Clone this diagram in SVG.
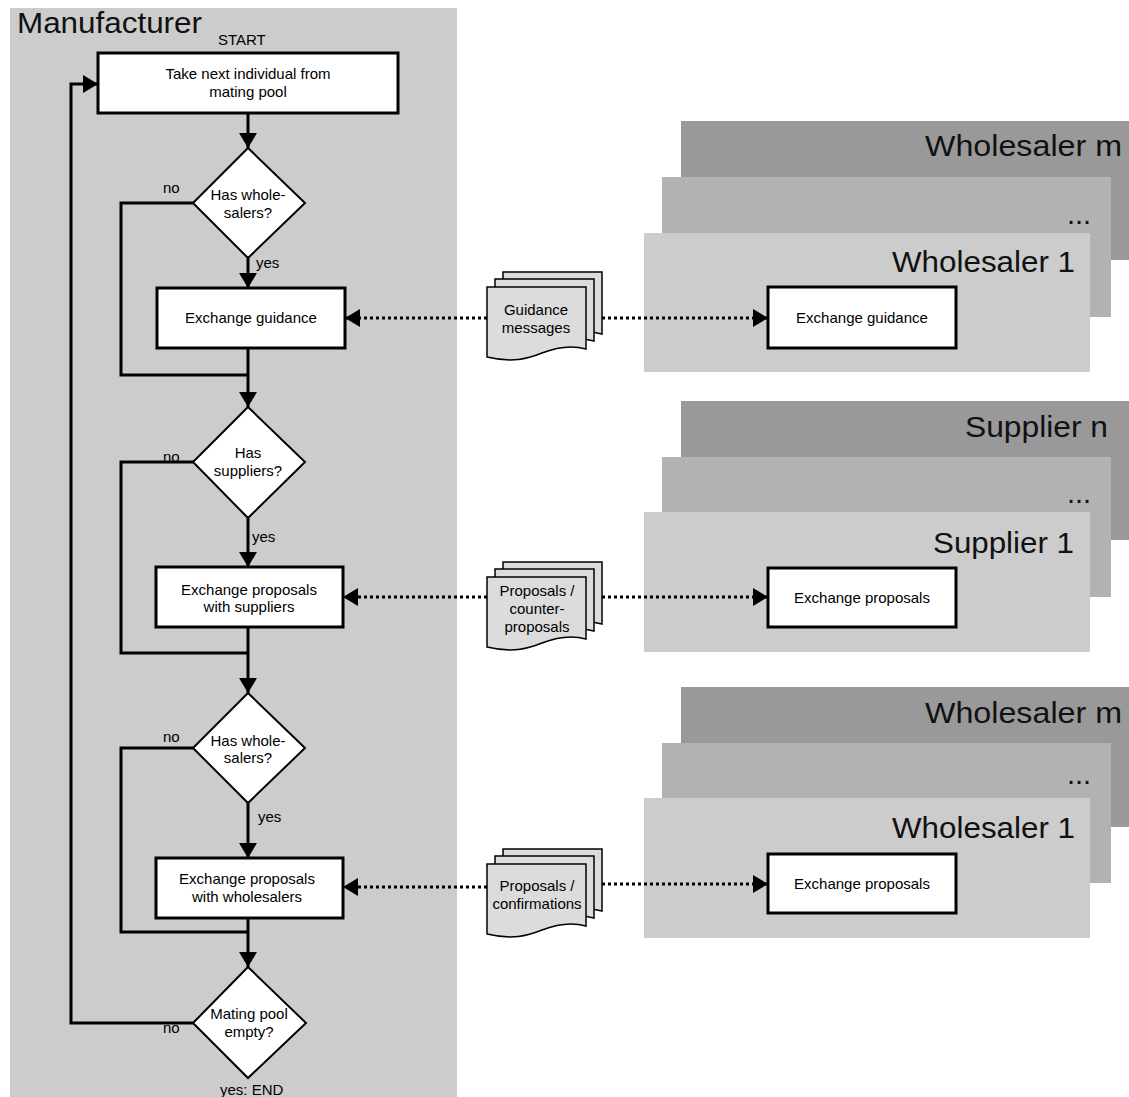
<svg xmlns="http://www.w3.org/2000/svg" width="1129" height="1097" viewBox="0 0 1129 1097">
  <style>
    .t { font-family: "Liberation Sans", Arial, sans-serif; font-size: 15px; fill: #000; }
    .c { text-anchor: middle; }
    .big { font-family: "Liberation Sans", Arial, sans-serif; font-size: 29px; fill: #111; }
    .box { fill: #fff; stroke: #000; stroke-width: 3; }
    .dia { fill: #fff; stroke: #000; stroke-width: 2; }
    .flow { fill: none; stroke: #000; stroke-width: 3; }
    .dot { fill: none; stroke: #000; stroke-width: 3; stroke-dasharray: 3 3; }
    .page { fill: #dcdcdc; stroke: #000; stroke-width: 1.5; }
    .back { fill: #999999; }
    .mid { fill: #b2b2b2; }
    .front { fill: #cccccc; }
  </style>
  <defs>
    <marker id="arr" markerUnits="userSpaceOnUse" markerWidth="16" markerHeight="18" refX="15" refY="9" orient="auto">
      <path d="M0,0 L15,9 L0,18 Z" fill="#000"/>
    </marker>
    <!-- document shape: three stacked sheets with a wavy bottom -->
    <path id="sheet" d="M0,0 H99 V62 C85,58 70,60 55,66 C40,72 25,76 0,70 Z"/>
    <g id="docs">
      <use href="#sheet" class="page" x="16" y="-15"/>
      <use href="#sheet" class="page" x="8" y="-8"/>
      <use href="#sheet" class="page"/>
    </g>
  </defs>

  <!-- manufacturer lane -->
  <g id="manufacturer">
    <rect x="10" y="8" width="447" height="1095" fill="#cccccc"/>
    <text class="big" x="17" y="33" font-size="26" textLength="185" lengthAdjust="spacingAndGlyphs">Manufacturer</text>
    <text class="t" x="218" y="45" font-size="14">START</text>
  </g>

  <!-- wholesaler stack (guidance) -->
  <g id="wholesalers-a">
    <rect class="back" x="681" y="121" width="448" height="139"/>
    <rect class="mid" x="662" y="177" width="449" height="140"/>
    <rect class="front" x="644" y="233" width="446" height="139"/>
    <text class="big" x="925" y="156" textLength="197" lengthAdjust="spacingAndGlyphs">Wholesaler m</text>
    <text class="big" x="1067" y="224">...</text>
    <text class="big" x="892" y="272" textLength="183" lengthAdjust="spacingAndGlyphs">Wholesaler 1</text>
  </g>
  <g id="w-guidance">
    <rect class="box" x="768" y="287" width="188" height="61"/>
    <text class="t c" x="862" y="323">Exchange guidance</text>
  </g>

  <!-- supplier stack -->
  <g id="suppliers">
    <rect class="back" x="681" y="401" width="448" height="139"/>
    <rect class="mid" x="662" y="457" width="449" height="140"/>
    <rect class="front" x="644" y="512" width="446" height="140"/>
    <text class="big" x="965" y="437" textLength="143" lengthAdjust="spacingAndGlyphs">Supplier n</text>
    <text class="big" x="1067" y="503">...</text>
    <text class="big" x="933" y="553" textLength="141" lengthAdjust="spacingAndGlyphs">Supplier 1</text>
  </g>
  <g id="s-proposals">
    <rect class="box" x="768" y="568" width="188" height="59"/>
    <text class="t c" x="862" y="603">Exchange proposals</text>
  </g>

  <!-- wholesaler stack (proposals) -->
  <g id="wholesalers-b">
    <rect class="back" x="681" y="687" width="448" height="140"/>
    <rect class="mid" x="662" y="743" width="449" height="140"/>
    <rect class="front" x="644" y="798" width="446" height="140"/>
    <text class="big" x="925" y="723" textLength="197" lengthAdjust="spacingAndGlyphs">Wholesaler m</text>
    <text class="big" x="1067" y="784">...</text>
    <text class="big" x="892" y="838" textLength="183" lengthAdjust="spacingAndGlyphs">Wholesaler 1</text>
  </g>
  <g id="w-proposals">
    <rect class="box" x="768" y="854" width="188" height="59"/>
    <text class="t c" x="862" y="889">Exchange proposals</text>
  </g>

  <!-- connectors -->
  <g id="connectors">
    <path class="flow" d="M248,113 V148" marker-end="url(#arr)"/>
    <path class="flow" d="M248,258 V288" marker-end="url(#arr)"/>
    <path class="flow" d="M248,348 V407" marker-end="url(#arr)"/>
    <path class="flow" d="M248,518 V567" marker-end="url(#arr)"/>
    <path class="flow" d="M248,627 V693" marker-end="url(#arr)"/>
    <path class="flow" d="M248,803 V858" marker-end="url(#arr)"/>
    <path class="flow" d="M248,918 V967" marker-end="url(#arr)"/>
    <path class="flow" d="M193,203 H121 V375 H248"/>
    <path class="flow" d="M193,462 H121 V653 H248"/>
    <path class="flow" d="M193,748 H121 V932 H248"/>
    <path class="flow" d="M193,1023 H71 V84 H98" marker-end="url(#arr)"/>
    <path class="dot" d="M487,318 H345" marker-end="url(#arr)"/>
    <path class="dot" d="M602,318 H768" marker-end="url(#arr)"/>
    <path class="dot" d="M487,597 H343" marker-end="url(#arr)"/>
    <path class="dot" d="M602,597 H768" marker-end="url(#arr)"/>
    <path class="dot" d="M487,887 H343" marker-end="url(#arr)"/>
    <path class="dot" d="M602,884 H768" marker-end="url(#arr)"/>
  </g>

  <!-- flowchart nodes -->
  <g id="take-next">
    <rect class="box" x="98" y="53" width="300" height="60"/>
    <text class="t c" x="248" y="79">Take next individual from</text>
    <text class="t c" x="248" y="97">mating pool</text>
  </g>
  <g id="has-wholesalers-1">
    <polygon class="dia" points="248,148 305,203 248,258 193,203"/>
    <text class="t c" x="248" y="200">Has whole-</text>
    <text class="t c" x="248" y="218">salers?</text>
    <text class="t" x="163" y="193">no</text>
    <text class="t" x="256" y="268">yes</text>
  </g>
  <g id="exchange-guidance">
    <rect class="box" x="157" y="288" width="188" height="60"/>
    <text class="t c" x="251" y="323">Exchange guidance</text>
  </g>
  <g id="has-suppliers">
    <polygon class="dia" points="248,407 305,462 248,518 193,462"/>
    <text class="t c" x="248" y="458">Has</text>
    <text class="t c" x="248" y="476">suppliers?</text>
    <text class="t" x="163" y="462">no</text>
    <text class="t" x="252" y="542">yes</text>
  </g>
  <g id="exchange-suppliers">
    <rect class="box" x="156" y="567" width="187" height="60"/>
    <text class="t c" x="249" y="595">Exchange proposals</text>
    <text class="t c" x="249" y="612">with suppliers</text>
  </g>
  <g id="has-wholesalers-2">
    <polygon class="dia" points="248,693 305,748 248,803 193,748"/>
    <text class="t c" x="248" y="746">Has whole-</text>
    <text class="t c" x="248" y="763">salers?</text>
    <text class="t" x="163" y="742">no</text>
    <text class="t" x="258" y="822">yes</text>
  </g>
  <g id="exchange-wholesalers">
    <rect class="box" x="156" y="858" width="187" height="60"/>
    <text class="t c" x="247" y="884">Exchange proposals</text>
    <text class="t c" x="247" y="902">with wholesalers</text>
  </g>
  <g id="pool-empty">
    <polygon class="dia" points="248,967 306,1023 248,1078 193,1023"/>
    <text class="t c" x="249" y="1019">Mating pool</text>
    <text class="t c" x="249" y="1037">empty?</text>
    <text class="t" x="163" y="1033">no</text>
    <text class="t" x="220" y="1095">yes: END</text>
  </g>

  <!-- message documents -->
  <g id="doc-guidance">
    <use href="#docs" x="487" y="287"/>
    <text class="t c" x="536" y="315">Guidance</text>
    <text class="t c" x="536" y="333">messages</text>
  </g>
  <g id="doc-counter">
    <use href="#docs" x="487" y="577"/>
    <text class="t c" x="537" y="596">Proposals /</text>
    <text class="t c" x="537" y="614">counter-</text>
    <text class="t c" x="537" y="632">proposals</text>
  </g>
  <g id="doc-confirm">
    <use href="#docs" x="487" y="864"/>
    <text class="t c" x="537" y="891">Proposals /</text>
    <text class="t c" x="537" y="909">confirmations</text>
  </g>
</svg>
